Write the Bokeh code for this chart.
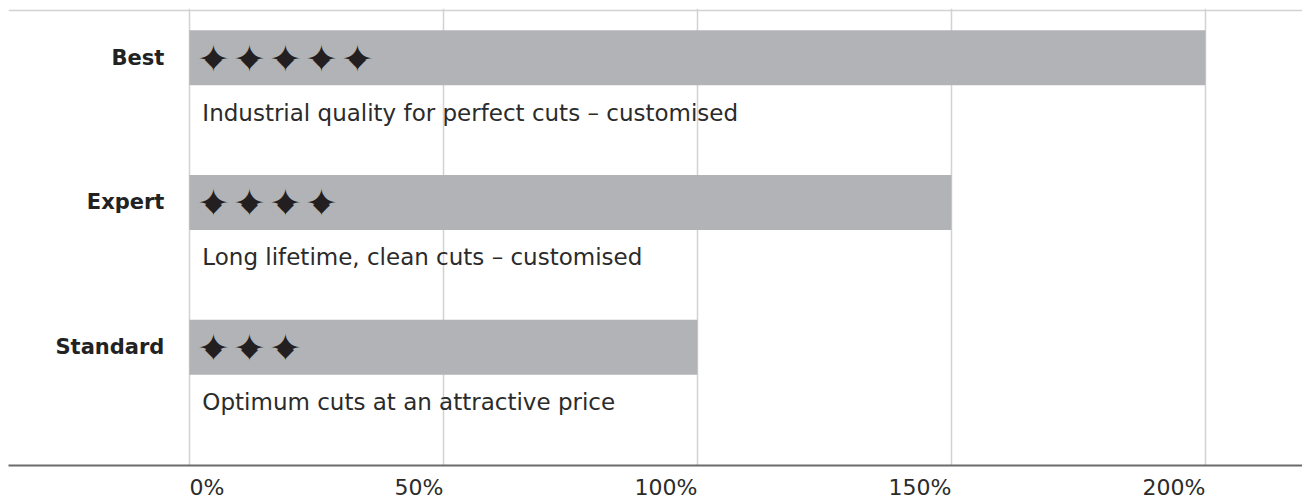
from bokeh.plotting import figure
from bokeh.models import ColumnDataSource, Range1d, FixedTicker
from bokeh.core.properties import value
from bokeh.embed import file_html
from bokeh.resources import INLINE

# ---- data ----
categories = ["Standard", "Expert", "Best"]
values = [100, 150, 200]
star_counts = [3, 4, 5]
descriptions = [
    "Optimum cuts at an attractive price",
    "Long lifetime, clean cuts \u2013 customised",
    "Industrial quality for perfect cuts \u2013 customised",
]
tick_values = [0, 50, 100, 150, 200]
tick_labels = ["0%", "50%", "100%", "150%", "200%"]

FONT = "DejaVu Sans"
TEXT_COLOR = "#2b2b2b"
BAR_COLOR = "#b2b3b6"
GRID_COLOR = "#d2d2d2"
STAR_COLOR = "#231f20"

pos = list(range(len(categories)))
src = ColumnDataSource(dict(pos=pos, value=values, cat=categories, desc=descriptions))

x_start, x_end = -35.6, 219.1
y_start, y_end = -0.817, 2.34
p = figure(width=1302, height=502, output_backend="svg", toolbar_location=None,
           x_range=Range1d(x_start, x_end), y_range=Range1d(y_start, y_end),
           y_axis_location=None, min_border_left=8, min_border_right=0,
           min_border_top=8, min_border_bottom=36)
p.outline_line_color = None

# grid
p.xgrid.ticker = FixedTicker(ticks=tick_values)
p.xgrid.grid_line_color = GRID_COLOR
p.xgrid.grid_line_width = 1.5
p.xgrid.bounds = (tick_values[0], tick_values[-1])
p.ygrid.ticker = FixedTicker(ticks=[y_end - 0.014])
p.ygrid.grid_line_color = GRID_COLOR
p.ygrid.grid_line_width = 1.5
p.ygrid.bounds = (0, x_end)

# bars
p.hbar(y="pos", left=0, right="value", height=0.38, color=BAR_COLOR, line_color=None, source=src)

# stars (one per rating point)
sy, soff = [], []
for i, n in zip(pos, star_counts):
    for k in range(n):
        sy.append(i)
        soff.append(24 + 36 * k)
star_src = ColumnDataSource(dict(y=sy, x=[0] * len(sy), off=soff,
                                 t=["\u2726"] * len(sy), d=["\u25c6"] * len(sy)))
p.text(x="x", y="y", text="t", x_offset="off", y_offset=1, source=star_src, text_align="center",
       text_baseline="middle", text_font=value("DejaVu Sans"), text_font_size="38px",
       text_font_style="bold", text_color=STAR_COLOR)
p.text(x="x", y="y", text="d", x_offset="off", y_offset=1, source=star_src, text_align="center",
       text_baseline="middle", text_font=value("DejaVu Sans"), text_font_size="22px",
       text_color=STAR_COLOR)

# descriptions
p.text(x=0, y="pos", text="desc", source=src, x_offset=13, y_offset=55,
       text_align="left", text_baseline="middle", text_font=value(FONT),
       text_font_size="23px", text_color=TEXT_COLOR)

# category labels
p.text(x=0, y="pos", text="cat", source=src, x_offset=-25,
       text_align="right", text_baseline="middle", text_font=value(FONT),
       text_font_size="21px", text_font_style="bold", text_color="#222222")

# x axis: label right of the first tick, left of the others
# (invisible figure/punctuation-space padding of equal width keeps them centred)
def _pad(lab):
    return "\u2007" * len(lab) + "\u2008"

overrides = {}
for v, lab in zip(tick_values, tick_labels):
    overrides[v] = (_pad(lab) + lab) if v == tick_values[0] else (lab + _pad(lab))

ax = p.xaxis[0]
ax.ticker = FixedTicker(ticks=tick_values)
ax.major_label_overrides = overrides
ax.major_label_text_align = "center"
ax.major_label_text_font = FONT
ax.major_label_text_font_size = "22px"
ax.major_label_text_color = TEXT_COLOR
ax.major_label_standoff = 9
ax.major_tick_out = 0
ax.major_tick_in = 0
ax.major_tick_line_color = None
ax.minor_tick_line_color = None
ax.axis_line_color = "#6b6b6b"
ax.axis_line_width = 2

open("out.html", "w").write(file_html(p, INLINE))
